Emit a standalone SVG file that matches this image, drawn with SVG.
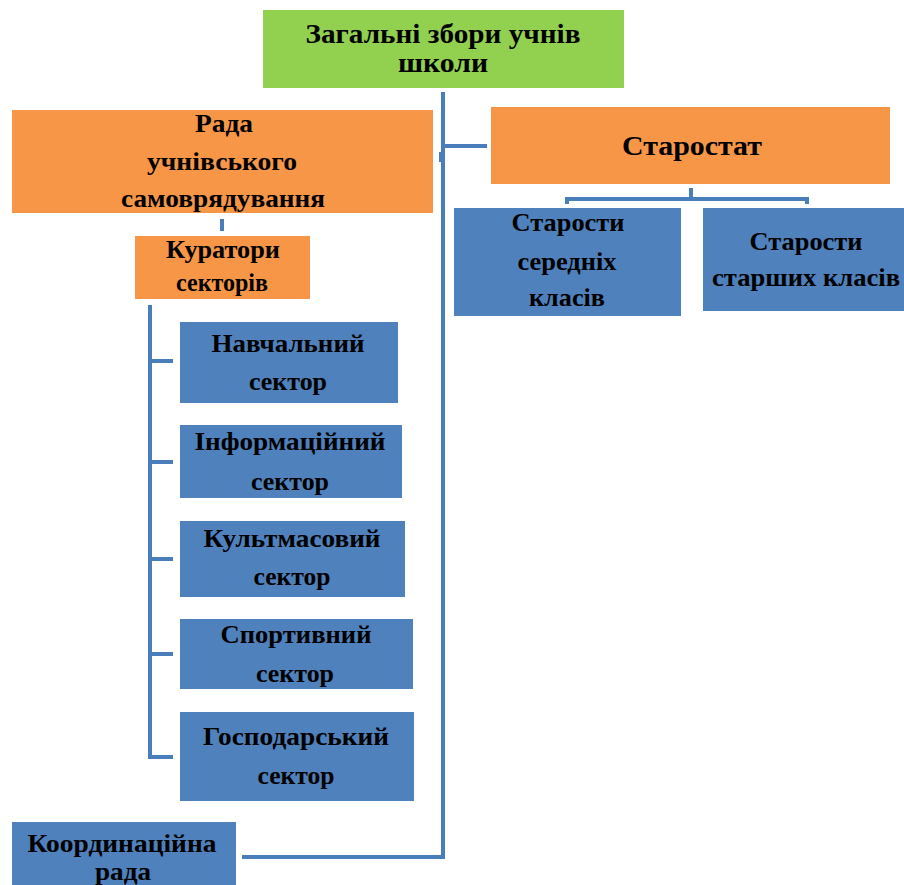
<svg xmlns="http://www.w3.org/2000/svg" width="904" height="885" viewBox="0 0 904 885">
<style>
.g{fill:#92D050}
.o{fill:#F79646}
.b{fill:#4F81BD}
text{font-family:"Liberation Serif","Times New Roman",serif;font-weight:bold;fill:#000;text-anchor:middle}
.t1{font-size:28px}
.t3{font-size:27px}
.t2{font-size:25px}
.s{font-size:25px}
.c{fill:none;stroke:#4A7EBB;stroke-width:4}
</style>
<rect width="904" height="885" fill="#fff"/>
<g id="connectors">
<path class="c" d="M443,92 V857 H242"/>
<path class="c" d="M443,146 H487"/>
<path class="c" d="M441,152 V162"/>
<path class="c" d="M691,188 V199 M567,204 V199 H807 V204"/>
<path class="c" d="M222,219 V231"/>
<path class="c" d="M150,305 V757 H173 M150,361 H173 M150,462 H173 M150,559 H173 M150,654 H173"/>
</g>
<g id="n-zagalni">
<rect class="g" x="263" y="10" width="361" height="78"/>
<text class="t1" x="443" y="43" textLength="275" lengthAdjust="spacingAndGlyphs">Загальні збори учнів</text>
<text class="t1" x="443" y="72" textLength="90" lengthAdjust="spacingAndGlyphs">школи</text>
</g>
<g id="n-rada">
<rect class="o" x="12" y="110" width="421" height="103"/>
<text class="t2" x="224" y="132" textLength="58" lengthAdjust="spacingAndGlyphs">Рада</text>
<text class="t2" x="222" y="170" textLength="150" lengthAdjust="spacingAndGlyphs">учнівського</text>
<text class="t2" x="223" y="207" textLength="204" lengthAdjust="spacingAndGlyphs">самоврядування</text>
</g>
<g id="n-kuratory">
<rect class="o" x="135" y="236" width="175" height="63"/>
<text class="t2" x="223" y="258" textLength="114" lengthAdjust="spacingAndGlyphs">Куратори</text>
<text class="t2" x="222" y="291" textLength="92" lengthAdjust="spacingAndGlyphs">секторів</text>
</g>
<g id="n-starostat">
<rect class="o" x="491" y="107" width="399" height="77"/>
<text class="t3" x="692" y="155" textLength="140" lengthAdjust="spacingAndGlyphs">Старостат</text>
</g>
<g id="n-serednih">
<rect class="b" x="454" y="208" width="227" height="108"/>
<text class="t2" x="568" y="231" textLength="113" lengthAdjust="spacingAndGlyphs">Старости</text>
<text class="t2" x="567" y="270" textLength="99" lengthAdjust="spacingAndGlyphs">середніх</text>
<text class="t2" x="567" y="306" textLength="76" lengthAdjust="spacingAndGlyphs">класів</text>
</g>
<g id="n-starshyh">
<rect class="b" x="703" y="208" width="201" height="103"/>
<text class="t2" x="806" y="250" textLength="113" lengthAdjust="spacingAndGlyphs">Старости</text>
<text class="t2" x="806" y="286" textLength="188" lengthAdjust="spacingAndGlyphs">старших класів</text>
</g>
<g id="n-navch">
<rect class="b" x="180" y="322" width="218" height="81"/>
<text class="s" x="288" y="352" textLength="153" lengthAdjust="spacingAndGlyphs">Навчальний</text>
<text class="s" x="288" y="390" textLength="78" lengthAdjust="spacingAndGlyphs">сектор</text>
</g>
<g id="n-inform">
<rect class="b" x="180" y="425" width="222" height="73"/>
<text class="s" x="290" y="450" textLength="191" lengthAdjust="spacingAndGlyphs">Інформаційний</text>
<text class="s" x="290" y="490" textLength="78" lengthAdjust="spacingAndGlyphs">сектор</text>
</g>
<g id="n-kult">
<rect class="b" x="180" y="521" width="225" height="76"/>
<text class="s" x="292" y="547" textLength="177" lengthAdjust="spacingAndGlyphs">Культмасовий</text>
<text class="s" x="292" y="585" textLength="77" lengthAdjust="spacingAndGlyphs">сектор</text>
</g>
<g id="n-sport">
<rect class="b" x="180" y="619" width="233" height="70"/>
<text class="s" x="296" y="643" textLength="151" lengthAdjust="spacingAndGlyphs">Спортивний</text>
<text class="s" x="295" y="682" textLength="78" lengthAdjust="spacingAndGlyphs">сектор</text>
</g>
<g id="n-gosp">
<rect class="b" x="180" y="712" width="234" height="89"/>
<text class="s" x="296" y="745" textLength="186" lengthAdjust="spacingAndGlyphs">Господарський</text>
<text class="s" x="296" y="784" textLength="77" lengthAdjust="spacingAndGlyphs">сектор</text>
</g>
<g id="n-koord">
<rect class="b" x="12" y="822" width="224" height="63"/>
<text class="s" x="122" y="852" textLength="189" lengthAdjust="spacingAndGlyphs">Координаційна</text>
<text class="s" x="123" y="880" textLength="56" lengthAdjust="spacingAndGlyphs">рада</text>
</g>
</svg>
